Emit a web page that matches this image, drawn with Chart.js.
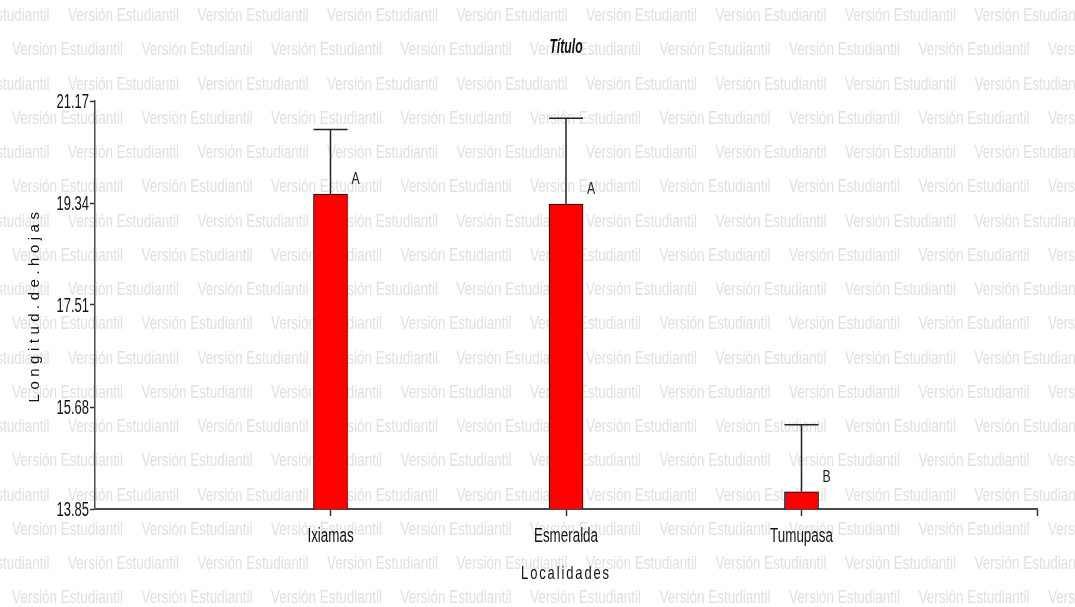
<!DOCTYPE html>
<html>
<head>
<meta charset="utf-8">
<title>Longitud de hojas por localidad</title>
<script src="https://cdn.jsdelivr.net/npm/chart.js@4.4.1/dist/chart.umd.min.js"></script>
<style>
  html, body { margin: 0; padding: 0; background: #fff; }
  #wrap { width: 1075px; height: 607px; position: relative; }
</style>
</head>
<body>
<div id="wrap"><canvas id="c"></canvas></div>
<script>
// Data: mean leaf length per locality, error bar size, significance group
const categories = ['Ixiamas', 'Esmeralda', 'Tumupasa'];
const means = [19.50, 19.32, 14.16];
const errors = [1.16, 1.54, 1.20];
const groups = ['A', 'A', 'B'];
const yTicks = [13.85, 15.68, 17.51, 19.34, 21.17];

const chartTitle = 'Título';
const xTitle = 'Localidades';
const yTitle = 'Longitud.de.hojas';
const watermark = 'Versión Estudiantil';

const FONT = "'Liberation Sans', Arial, sans-serif";

// one empty slot on each side so the bars sit at 1, 2, 3 of a 0..4 axis
const labels = ['', ...categories, ''];
const values = [null, ...means, null];

// condensed text: drawn in a regular face squeezed horizontally
function drawText(ctx, text, x, y, opts) {
  ctx.save();
  ctx.translate(x, y);
  ctx.scale(opts.sx || 1, 1);
  ctx.font = opts.font;
  ctx.fillStyle = opts.color || '#111';
  ctx.textAlign = opts.align || 'center';
  ctx.textBaseline = opts.baseline || 'alphabetic';
  if (opts.spacing) ctx.letterSpacing = opts.spacing;
  ctx.fillText(text, 0, 0);
  ctx.restore();
}

// repeated light-grey background text
const watermarkPlugin = {
  id: 'watermark',
  beforeDraw(chart) {
    const { ctx, width, height } = chart;
    ctx.save();
    ctx.fillStyle = '#fff';
    ctx.fillRect(0, 0, width, height);
    ctx.restore();
    const period = 129.5;
    for (let r = 0; r < 18; r++) {
      const y = 16 + r * 34.25;
      const x0 = r % 2 === 0 ? 68 - period : 12;
      for (let x = x0; x < width; x += period) {
        drawText(ctx, watermark, x, y, {
          font: '18.5px ' + FONT, sx: 0.73, color: '#e0e0e0',
          align: 'left', baseline: 'middle'
        });
      }
    }
  }
};

// error bars above each bar plus the group letters
const errorBarPlugin = {
  id: 'errorBars',
  afterDatasetsDraw(chart) {
    const ctx = chart.ctx;
    const yScale = chart.scales.y;
    const meta = chart.getDatasetMeta(0);
    categories.forEach((c, i) => {
      const bar = meta.data[i + 1];
      const x = bar.x;
      const yb = bar.y;
      const yt = yScale.getPixelForValue(means[i] + errors[i]);
      const half = bar.width / 2;
      ctx.save();
      ctx.strokeStyle = '#222';
      ctx.lineWidth = 1.5;
      ctx.beginPath();
      ctx.moveTo(x, yb);
      ctx.lineTo(x, yt);
      ctx.moveTo(x - half, yt);
      ctx.lineTo(x + half, yt);
      ctx.stroke();
      ctx.restore();
      drawText(ctx, groups[i], x + 21, yb - 10, {
        font: '17px ' + FONT, sx: 0.72, color: '#222', align: 'left'
      });
    });
  }
};

// tick labels, chart title and axis titles
const labelsPlugin = {
  id: 'labels',
  afterDraw(chart) {
    const { ctx, chartArea: a, scales } = chart;
    const cx = (a.left + a.right) / 2;

    scales.y.ticks.forEach((t, i) => {
      const py = scales.y.getPixelForTick(i);
      drawText(ctx, t.value.toFixed(2), a.left - 6, py + 7, {
        font: '20px ' + FONT, sx: 0.65, align: 'right'
      });
    });

    scales.x.ticks.forEach((t, i) => {
      const lbl = labels[t.value];
      if (!lbl) return;
      const px = scales.x.getPixelForTick(i);
      drawText(ctx, lbl, px, a.bottom + 33, {
        font: '20px ' + FONT, sx: 0.67
      });
    });

    drawText(ctx, chartTitle, cx, 53, {
      font: 'italic bold 21px ' + FONT, sx: 0.58
    });
    drawText(ctx, xTitle, cx, 579, {
      font: '18.5px ' + FONT, sx: 0.7, spacing: '2.7px'
    });

    ctx.save();
    ctx.translate(35, (a.top + a.bottom) / 2);
    ctx.rotate(-Math.PI / 2);
    ctx.font = '15px ' + FONT;
    ctx.fillStyle = '#111';
    ctx.textAlign = 'center';
    ctx.textBaseline = 'middle';
    ctx.letterSpacing = '4.5px';
    ctx.fillText(yTitle, 0, 0);
    ctx.restore();
  }
};

new Chart(document.getElementById('c'), {
  type: 'bar',
  data: {
    labels: labels,
    datasets: [{
      data: values,
      backgroundColor: '#ff0000',
      borderColor: '#000',
      borderWidth: 1,
      barThickness: 34
    }]
  },
  options: {
    responsive: true,
    maintainAspectRatio: false,
    animation: false,
    layout: { padding: { left: 0, right: 38, top: 101, bottom: 0 } },
    plugins: {
      legend: { display: false },
      tooltip: { enabled: false },
      title: { display: false }
    },
    scales: {
      x: {
        type: 'category',
        offset: false,
        grid: {
          offset: false,
          drawOnChartArea: false,
          drawTicks: true,
          tickLength: 7,
          tickWidth: 1.5,
          tickColor: c => (c.index === 0) ? 'rgba(0,0,0,0)' : '#333'
        },
        border: { display: true, color: '#4a4a4a', width: 2 },
        ticks: { display: false, autoSkip: false, maxRotation: 0 },
        afterFit(s) { s.height = 98; }
      },
      y: {
        min: 13.85,
        max: 21.17,
        afterBuildTicks(s) { s.ticks = yTicks.map(v => ({ value: v })); },
        grid: {
          drawOnChartArea: false,
          drawTicks: true,
          tickLength: 5,
          tickWidth: 1.5,
          tickColor: '#333'
        },
        border: { display: true, color: '#4a4a4a', width: 1.5 },
        ticks: { display: false },
        afterFit(s) { s.width = 95; }
      }
    }
  },
  plugins: [watermarkPlugin, errorBarPlugin, labelsPlugin]
});
</script>
</body>
</html>
